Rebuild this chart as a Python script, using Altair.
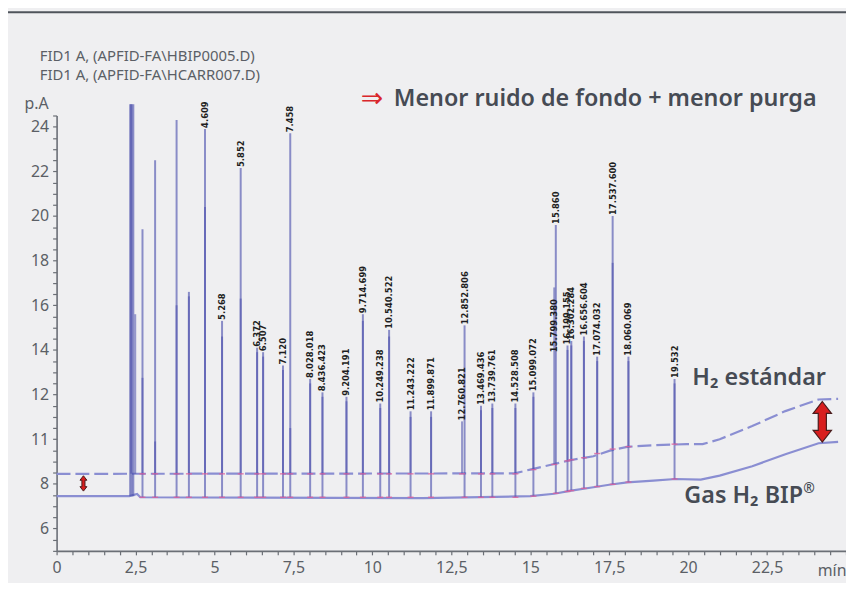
import altair as alt
import pandas as pd

# ---------------- data ----------------
# baselines (time in min, signal in scale units)
bip_base_t = [0.0, 2.30, 2.55, 2.65, 11.6, 15.0, 15.76, 16.3, 17.0, 17.5, 18.07, 18.9, 19.6, 20.4, 21.0, 22.03, 23.08, 24.13, 24.75]
bip_base_v = [7.45, 7.45, 7.55, 7.40, 7.36, 7.45, 7.56, 7.70, 7.85, 7.96, 8.07, 8.15, 8.22, 8.19, 8.37, 8.79, 9.33, 9.82, 9.88]
std_base_t = [0.0, 14.5, 15.0, 15.76, 16.3, 17.0, 17.5, 18.07, 18.9, 19.95, 20.46, 21.0, 22.03, 23.08, 24.13, 24.75]
std_base_v = [8.45, 8.47, 8.64, 8.89, 9.07, 9.24, 9.48, 9.66, 9.73, 9.78, 9.78, 10.0, 10.59, 11.26, 11.78, 11.81]

# peaks of the BIP trace
bip_t = [2.33, 2.38, 2.43, 2.72, 3.12, 3.80, 4.19, 4.70, 5.24, 5.83, 6.35, 6.54, 7.17, 7.40, 8.03, 8.42,
         9.18, 9.70, 10.25, 10.53, 11.21, 11.86, 12.92, 13.44, 13.80, 14.53, 15.10, 15.81, 16.18, 16.30,
         16.70, 17.12, 17.61, 18.11, 19.57]
bip_top = [25.0, 25.0, 25.0, 19.4, 22.5, 24.3, 16.6, 23.9, 15.3, 22.15, 14.1, 13.9, 13.3, 23.7, 12.7, 12.1,
           11.9, 15.6, 11.6, 14.9, 11.25, 11.25, 15.1, 11.5, 11.6, 11.6, 12.1, 19.6, 14.2, 14.4,
           14.6, 13.7, 20.0, 13.7, 12.7]
bip_foot = [7.45, 7.45, 7.45, 7.40, 7.40, 7.40, 7.40, 7.40, 7.40, 7.40, 7.40, 7.40, 7.40, 7.40, 7.40, 7.40,
            7.40, 7.40, 7.40, 7.40, 7.40, 7.40, 7.40, 7.40, 7.40, 7.40, 7.45, 7.58, 7.66, 7.70,
            7.80, 7.88, 7.98, 8.08, 8.22]

# peaks of the standard H2 trace
std_t = [2.36, 2.49, 2.72, 3.12, 3.80, 4.19, 4.70, 5.24, 5.83, 6.35, 6.54, 7.17, 7.40, 8.03, 8.42, 9.18,
         9.70, 10.25, 10.53, 11.21, 11.86, 12.84, 13.44, 13.80, 14.53, 15.10, 15.76, 16.18, 16.30, 16.70,
         17.12, 17.61, 18.11, 19.57]
std_top = [25.0, 15.6, 12.75, 9.9, 16.0, 16.4, 20.4, 14.6, 16.3, 13.9, 13.7, 13.1, 10.5, 12.5, 11.9, 11.7,
           15.3, 11.4, 14.6, 11.0, 11.0, 10.8, 11.3, 11.4, 11.4, 11.9, 16.8, 14.0, 14.2, 14.4,
           13.5, 17.9, 13.5, 12.5]
std_foot = [8.45, 8.45, 8.45, 8.45, 8.45, 8.45, 8.45, 8.45, 8.45, 8.45, 8.45, 8.45, 8.45, 8.45, 8.45, 8.45,
            8.45, 8.45, 8.45, 8.45, 8.45, 8.45, 8.45, 8.45, 8.45, 8.64, 8.87, 9.03, 9.08, 9.17,
            9.36, 9.56, 9.67, 9.78]

# retention-time labels
lab_t = [4.70, 5.24, 5.83, 6.35, 6.54, 7.17, 7.40, 8.03, 8.42, 9.18, 9.70, 10.25, 10.53, 11.21, 11.86,
         12.84, 12.92, 13.44, 13.80, 14.53, 15.10, 15.76, 15.81, 16.18, 16.30, 16.70, 17.12, 17.61, 18.11, 19.57]
lab_v = [23.9, 15.3, 22.15, 14.1, 13.9, 13.3, 23.7, 12.7, 12.1, 11.9, 15.6, 11.6, 14.9, 11.25, 11.25,
         10.8, 15.1, 11.5, 11.6, 11.6, 12.1, 13.85, 19.6, 14.2, 14.4, 14.6, 13.7, 20.0, 13.7, 12.7]
lab_txt = ["4.609", "5.268", "5.852", "6.372", "6.507", "7.120", "7.458", "8.028.018", "8.436.423",
           "9.204.191", "9.714.699", "10.249.238", "10.540.522", "11.243.222", "11.899.871",
           "12.760.821", "12.852.806", "13.469.436", "13.739.761", "14.528.508", "15.099.072",
           "15.799.380", "15.860", "16.199.155", "16.302.284", "16.656.604", "17.074.032",
           "17.537.600", "18.060.069", "19.532"]

# double arrows (time, centre value)
arrow_small_t = [0.85]
arrow_small_v = [8.02]
arrow_big_t = [24.25]
arrow_big_v = [10.78]

# axes
x_tick_values = [0, 2.5, 5, 7.5, 10, 12.5, 15, 17.5, 20, 22.5]
x_tick_labels = ["0", "2,5", "5", "7,5", "10", "12,5", "15", "17,5", "20", "22,5"]
y_tick_values = [6, 8, 10, 12, 14, 16, 18, 20, 22, 24]
y_tick_labels = ["6", "8", "11", "12", "14", "16", "18", "20", "22", "24"]

header_lines = ["FID1 A, (APFID-FA\\HBIP0005.D)", "FID1 A, (APFID-FA\\HCARR007.D)"]
y_unit = "p.A"
x_unit = "mín"
headline = "Menor ruido de fondo + menor purga"
std_name = "H₂ estándar"
bip_name = "Gas H₂ BIP"
reg_mark = "®"

# ---------------- layout ----------------
W, H = 796, 439
PAD_L, PAD_T, PAD_R, PAD_B = 49, 106, 0, 30
FONT = "Noto Sans"
TXT = "#464b54"
AX = "#6b6f76"
LAB = "#5b5f66"
BASE_C = "#8a8ed2"
PEAK_C = "#4a4fac"

xs = alt.Scale(domain=[0, 25], nice=False, zero=False)
ys = alt.Scale(domain=[5, 24.5], nice=False, zero=False)

bip_base = pd.DataFrame({"t": bip_base_t, "v": bip_base_v})
std_base = pd.DataFrame({"t": std_base_t, "v": std_base_v})
bip_pk = pd.DataFrame({"t": bip_t, "top": bip_top, "foot": bip_foot})
std_pk = pd.DataFrame({"t": std_t, "top": std_top, "foot": std_foot})
feet = pd.DataFrame({"t": bip_t[3:] + std_t[2:], "v": bip_foot[3:] + std_foot[2:]})
labels = pd.DataFrame({"t": lab_t, "v": lab_v, "txt": lab_txt})


def label_expr(values, texts):
    return "".join(f"datum.value == {v} ? '{l}' : " for v, l in zip(values, texts)) + "''"


# tick positions every half unit (minor ticks); only the major ones carry labels
tick_x = [i * 0.5 for i in range(51)]
tick_y = [5 + i * 0.5 for i in range(40)]

x_axis = alt.Axis(values=tick_x, orient="bottom", title=None,
                  labelExpr=label_expr(x_tick_values, x_tick_labels),
                  tickSize=4, labelPadding=5, labelFont=FONT, labelFontSize=16, labelColor=LAB,
                  domainColor=AX, domainWidth=1.6, tickColor=AX, tickWidth=1.2, grid=False,
                  labelFlush=False, labelOverlap=False, labelBound=False)
y_axis = alt.Axis(values=tick_y, orient="left", title=None,
                  labelExpr=label_expr(y_tick_values, y_tick_labels),
                  tickSize=4, labelPadding=4, labelFont=FONT, labelFontSize=16, labelColor=LAB,
                  domainColor=AX, domainWidth=1.6, tickColor=AX, tickWidth=1.2, grid=False,
                  labelOverlap=False, labelBound=False, labelFlush=False)

bip_line = alt.Chart(bip_base).mark_line(color=BASE_C, strokeWidth=2.2).encode(
    x=alt.X("t:Q", scale=xs, axis=x_axis),
    y=alt.Y("v:Q", scale=ys, axis=y_axis),
)
std_line = alt.Chart(std_base).mark_line(color=BASE_C, strokeWidth=2.2, strokeDash=[14, 5]).encode(
    x=alt.X("t:Q", scale=xs, axis=None),
    y=alt.Y("v:Q", scale=ys, axis=None),
)
bip_rules = alt.Chart(bip_pk).mark_rule(color=PEAK_C, strokeWidth=2, opacity=0.62).encode(
    x=alt.X("t:Q", scale=xs, axis=None),
    y=alt.Y("foot:Q", scale=ys, axis=None),
    y2="top:Q",
)
std_rules = alt.Chart(std_pk).mark_rule(color=PEAK_C, strokeWidth=2, opacity=0.55).encode(
    x=alt.X("t:Q", scale=xs, axis=None),
    y=alt.Y("foot:Q", scale=ys, axis=None),
    y2="top:Q",
)
foot_marks = alt.Chart(feet).mark_point(shape="M-1,0L1,0", size=36, color="#e0609c",
                                        strokeWidth=1.4, opacity=0.8).encode(
    x=alt.X("t:Q", scale=xs, axis=None),
    y=alt.Y("v:Q", scale=ys, axis=None),
)
lab_layer = alt.Chart(labels).mark_text(angle=270, align="left", baseline="middle", font="DejaVu Sans",
                                        fontSize=8.5, fontWeight="bold", color="#1e1e22", dx=1).encode(
    x=alt.X("t:Q", scale=xs, axis=None),
    y=alt.Y("v:Q", scale=ys, axis=None),
    text="txt:N",
)

ARROW = "M0,-1L0.45,-0.42L0.2,-0.42L0.2,0.42L0.45,0.42L0,1L-0.45,0.42L-0.2,0.42L-0.2,-0.42L-0.45,-0.42Z"
arrow_small = alt.Chart(pd.DataFrame({"t": arrow_small_t, "v": arrow_small_v})).mark_point(
    shape=ARROW, size=240, filled=True, fill="#d81e1e", stroke="#4a1c1c", strokeWidth=1, opacity=1).encode(
    x=alt.X("t:Q", scale=xs, axis=None), y=alt.Y("v:Q", scale=ys, axis=None))
arrow_big = alt.Chart(pd.DataFrame({"t": arrow_big_t, "v": arrow_big_v})).mark_point(
    shape=ARROW, size=1680, filled=True, fill="#d81e1e", stroke="#4a1c1c", strokeWidth=1.2, opacity=1).encode(
    x=alt.X("t:Q", scale=xs, axis=None), y=alt.Y("v:Q", scale=ys, axis=None))


def txt(s, x, y, size, color=TXT, weight="normal", align="left", baseline="alphabetic", font=FONT):
    return alt.Chart(pd.DataFrame({"s": [s]})).mark_text(
        align=align, baseline=baseline, font=font, fontSize=size, fontWeight=weight, color=color
    ).encode(x=alt.value(x), y=alt.value(y), text="s:N")


top_rule = alt.Chart(pd.DataFrame({"a": [0]})).mark_rule(color="#4f545b", strokeWidth=2).encode(
    x=alt.value(-PAD_L), x2=alt.value(W + 10), y=alt.value(-104))

layers = [
    bip_line, std_line, bip_rules, std_rules, foot_marks, lab_layer, arrow_small, arrow_big, top_rule,
    txt(header_lines[0], -17, -55, 15, color=LAB),
    txt(header_lines[1], -17, -36, 15, color=LAB),
    txt(y_unit, -8, -7, 16, color=LAB, align="right"),
    txt("⇒", 318, -9, 27, color="#d9262b", align="center", font="DejaVu Sans"),
    txt(headline, 340, -10, 23.5, weight=600),
    txt(std_name, 641, 272, 23.5, weight=600),
    txt(bip_name, 633, 391, 23.5, weight=600),
    txt(reg_mark, 753, 381, 14, weight=600),
    txt(x_unit, 782, 459, 16, color=LAB, align="center", baseline="middle"),
]

chart = alt.layer(*layers).resolve_axis(x="independent", y="independent").properties(
    width=W, height=H,
    autosize=alt.AutoSizeParams(type="none"),
    padding={"left": PAD_L, "top": PAD_T, "right": PAD_R, "bottom": PAD_B},
).configure(background="#efeff1").configure_view(stroke=None)

chart.save("out.html", embed_options={"renderer": "svg", "actions": False})
